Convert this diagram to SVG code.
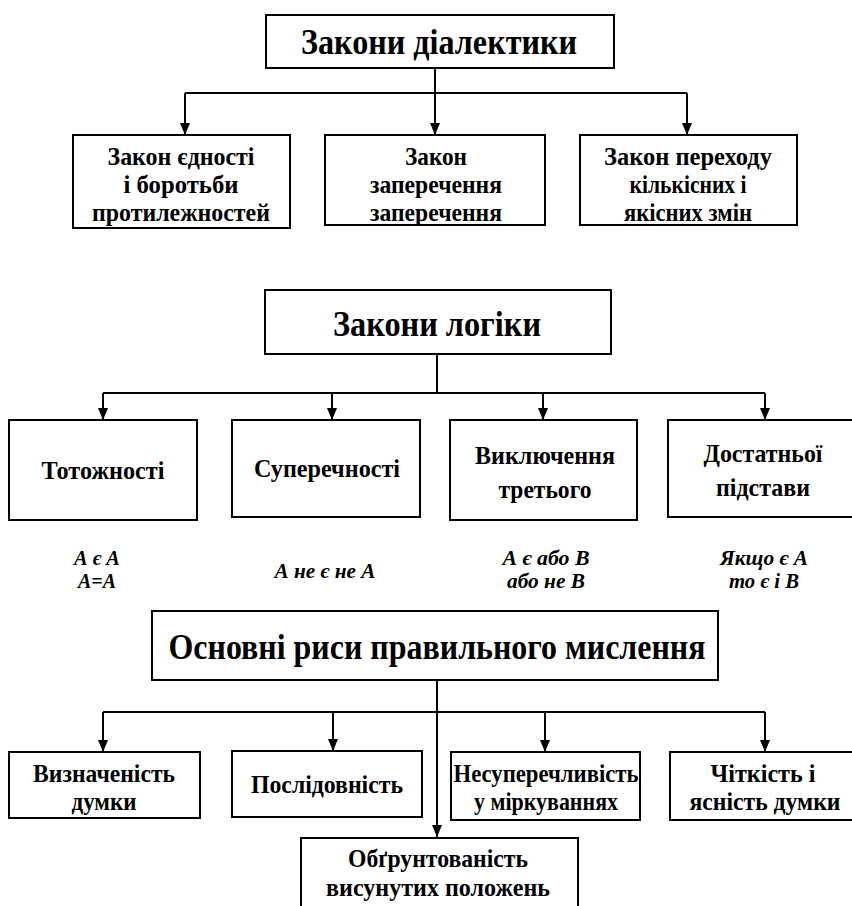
<svg xmlns="http://www.w3.org/2000/svg" width="852" height="906" viewBox="0 0 852 906">
<style>
.box{fill:#fff;stroke:#000;stroke-width:2}
.ln{fill:none;stroke:#000;stroke-width:2}
.tx{font-family:'Liberation Serif','Times New Roman',Tinos,serif;font-weight:bold;fill:#000;text-anchor:middle}
.t{font-size:35px}
.s{font-size:25px}
.i{font-size:21px;font-style:italic}
</style>
<defs>
<marker id="ah" markerWidth="12" markerHeight="10" refX="12" refY="5" orient="auto" markerUnits="userSpaceOnUse" viewBox="0 0 12 10">
<path d="M0,0 L12,5 L0,10 Z" fill="#000"/>
</marker>
</defs>
<rect width="852" height="906" fill="#fff"/>
<g id="connectors">
<path class="ln" d="M435,68 V93 M185,93 H687"/>
<path class="ln" d="M185,93 V135" marker-end="url(#ah)"/>
<path class="ln" d="M435,68 V135" marker-end="url(#ah)"/>
<path class="ln" d="M687,93 V135" marker-end="url(#ah)"/>
<path class="ln" d="M437,354 V393 M103,393 H765"/>
<path class="ln" d="M103,393 V420" marker-end="url(#ah)"/>
<path class="ln" d="M332,393 V420" marker-end="url(#ah)"/>
<path class="ln" d="M543,393 V420" marker-end="url(#ah)"/>
<path class="ln" d="M765,393 V420" marker-end="url(#ah)"/>
<path class="ln" d="M103,712 H765"/>
<path class="ln" d="M437,680 V837" marker-end="url(#ah)"/>
<path class="ln" d="M103,712 V752" marker-end="url(#ah)"/>
<path class="ln" d="M333,712 V751" marker-end="url(#ah)"/>
<path class="ln" d="M545,712 V752" marker-end="url(#ah)"/>
<path class="ln" d="M765,712 V752" marker-end="url(#ah)"/>
</g>
<g class="tx">
<g id="n-dialectics"><rect class="box" x="266" y="15" width="348" height="53"/><text class="t" x="439" y="54" textLength="276" lengthAdjust="spacingAndGlyphs">Закони діалектики</text></g>
<g id="n-unity"><rect class="box" x="73" y="135" width="217" height="93"/><text class="s" x="181" y="165" textLength="147" lengthAdjust="spacingAndGlyphs">Закон єдності</text><text class="s" x="181" y="193" textLength="115" lengthAdjust="spacingAndGlyphs">і боротьби</text><text class="s" x="181" y="221" textLength="178" lengthAdjust="spacingAndGlyphs">протилежностей</text></g>
<g id="n-negation"><rect class="box" x="325" y="135" width="220" height="90"/><text class="s" x="436" y="165" textLength="62" lengthAdjust="spacingAndGlyphs">Закон</text><text class="s" x="436" y="193" textLength="132" lengthAdjust="spacingAndGlyphs">заперечення</text><text class="s" x="436" y="221" textLength="132" lengthAdjust="spacingAndGlyphs">заперечення</text></g>
<g id="n-transition"><rect class="box" x="580" y="135" width="217" height="90"/><text class="s" x="688" y="165" textLength="168" lengthAdjust="spacingAndGlyphs">Закон переходу</text><text class="s" x="688" y="193" textLength="117" lengthAdjust="spacingAndGlyphs">кількісних і</text><text class="s" x="688" y="221" textLength="128" lengthAdjust="spacingAndGlyphs">якісних змін</text></g>

<g id="n-logic"><rect class="box" x="265" y="290" width="346" height="64"/><text class="t" x="437" y="336" textLength="208" lengthAdjust="spacingAndGlyphs">Закони логіки</text></g>
<g id="n-identity"><rect class="box" x="9" y="420" width="188" height="100"/><text class="s" x="103" y="479" textLength="123" lengthAdjust="spacingAndGlyphs">Тотожності</text></g>
<g id="n-contradiction"><rect class="box" x="232" y="420" width="188" height="97"/><text class="s" x="327" y="477" textLength="146" lengthAdjust="spacingAndGlyphs">Суперечності</text></g>
<g id="n-excluded"><rect class="box" x="450" y="420" width="187" height="100"/><text class="s" x="545" y="464" textLength="140" lengthAdjust="spacingAndGlyphs">Виключення</text><text class="s" x="545" y="498" textLength="93" lengthAdjust="spacingAndGlyphs">третього</text></g>
<g id="n-sufficient"><rect class="box" x="668" y="420" width="190" height="97"/><text class="s" x="763" y="462" textLength="119" lengthAdjust="spacingAndGlyphs">Достатньої</text><text class="s" x="763" y="496" textLength="94" lengthAdjust="spacingAndGlyphs">підстави</text></g>
<g id="f-identity"><text class="i" x="97" y="565" textLength="46" lengthAdjust="spacingAndGlyphs">А є А</text><text class="i" x="97" y="588" textLength="38" lengthAdjust="spacingAndGlyphs">А=А</text></g>
<g id="f-contradiction"><text class="i" x="325" y="578" textLength="101" lengthAdjust="spacingAndGlyphs">А не є не А</text></g>
<g id="f-excluded"><text class="i" x="546" y="565" textLength="87" lengthAdjust="spacingAndGlyphs">А є або В</text><text class="i" x="546" y="588" textLength="78" lengthAdjust="spacingAndGlyphs">або не В</text></g>
<g id="f-sufficient"><text class="i" x="764" y="565" textLength="88" lengthAdjust="spacingAndGlyphs">Якщо є А</text><text class="i" x="764" y="588" textLength="70" lengthAdjust="spacingAndGlyphs">то є і В</text></g>

<g id="n-thinking"><rect class="box" x="152" y="611" width="566" height="69"/><text class="t" x="437" y="659" textLength="537" lengthAdjust="spacingAndGlyphs">Основні риси правильного мислення</text></g>
<g id="n-definite"><rect class="box" x="9" y="752" width="191" height="66"/><text class="s" x="104" y="782" textLength="142" lengthAdjust="spacingAndGlyphs">Визначеність</text><text class="s" x="104" y="810" textLength="65" lengthAdjust="spacingAndGlyphs">думки</text></g>
<g id="n-sequence"><rect class="box" x="232" y="751" width="190" height="66"/><text class="s" x="327" y="793" textLength="152" lengthAdjust="spacingAndGlyphs">Послідовність</text></g>
<g id="n-consistent"><rect class="box" x="451" y="752" width="189" height="68"/><text class="s" x="546" y="782" textLength="185" lengthAdjust="spacingAndGlyphs">Несуперечливість</text><text class="s" x="546" y="810" textLength="144" lengthAdjust="spacingAndGlyphs">у міркуваннях</text></g>
<g id="n-clarity"><rect class="box" x="670" y="752" width="190" height="68"/><text class="s" x="763" y="782" textLength="105" lengthAdjust="spacingAndGlyphs">Чіткість і</text><text class="s" x="765" y="810" textLength="151" lengthAdjust="spacingAndGlyphs">ясність думки</text></g>
<g id="n-grounded"><rect class="box" x="301" y="838" width="277" height="72"/><text class="s" x="438" y="867" textLength="180" lengthAdjust="spacingAndGlyphs">Обґрунтованість</text><text class="s" x="438" y="896" textLength="224" lengthAdjust="spacingAndGlyphs">висунутих положень</text></g>
</g>
</svg>
